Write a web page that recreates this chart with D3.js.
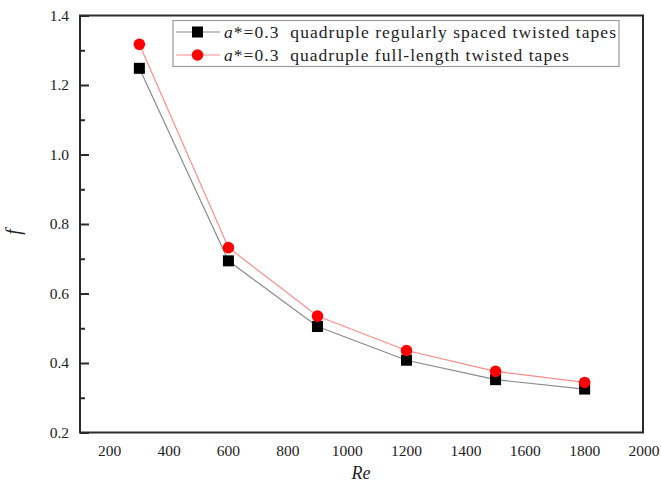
<!DOCTYPE html>
<html>
<head>
<meta charset="utf-8">
<script src="https://cdn.jsdelivr.net/npm/d3@7"></script>
<style>
  html, body { margin: 0; padding: 0; background: #fff; }
  svg { display: block; }
</style>
</head>
<body>
<svg id="chart" width="661" height="490"></svg>
<script>
// Reynolds numbers tested
const reynolds = [300, 600, 900, 1200, 1500, 1800];
// Friction factor, regularly spaced tapes
const fSpaced = [1.248, 0.694, 0.505, 0.408, 0.352, 0.325];
// Friction factor, full-length tapes
const fFull = [1.317, 0.732, 0.535, 0.436, 0.376, 0.344];
// Axis tick values
const xTicks = [200, 400, 600, 800, 1000, 1200, 1400, 1600, 1800, 2000];
const yTicks = [0.2, 0.4, 0.6, 0.8, 1.0, 1.2, 1.4];
const yMinorTicks = [0.3, 0.5, 0.7, 0.9, 1.1, 1.3];

const serif = "'Liberation Serif', 'Times New Roman', Times, 'DejaVu Serif', serif";
const ink = "#222";

const svg = d3.select("#chart");
const plotLeft = 80, plotRight = 644, plotTop = 15.5, plotBottom = 432.5;

const x = d3.scaleLinear().domain([100, 2000]).range([plotLeft, plotRight]);
const y = d3.scaleLinear().domain([0.2, 1.4]).range([plotBottom, plotTop]);

// Frame
svg.append("rect")
  .attr("x", plotLeft).attr("y", plotTop)
  .attr("width", plotRight - plotLeft - 1).attr("height", plotBottom - plotTop)
  .attr("fill", "none").attr("stroke", "#2a2a2a").attr("stroke-width", 2);

// Left axis, ticks pointing inward
const yAxis = d3.axisRight(y).tickValues(yTicks).tickSize(9).tickFormat("");
svg.append("g").attr("transform", `translate(${plotLeft},0)`).call(yAxis)
  .call(g => g.select(".domain").remove())
  .call(g => g.selectAll("line").attr("stroke", "#2a2a2a").attr("stroke-width", 2));
const yMinor = d3.axisRight(y).tickValues(yMinorTicks).tickSize(5).tickFormat("");
svg.append("g").attr("transform", `translate(${plotLeft},0)`).call(yMinor)
  .call(g => g.select(".domain").remove())
  .call(g => g.selectAll("line").attr("stroke", "#2a2a2a").attr("stroke-width", 2));

// Y tick labels
svg.append("g").selectAll("text").data(yTicks).join("text")
  .attr("x", plotLeft - 11).attr("y", d => y(d)).attr("dy", "0.35em")
  .attr("text-anchor", "end").attr("font-size", 15.5)
  .attr("font-family", serif).attr("fill", ink)
  .text(d => d.toFixed(1));

// X tick labels (no tick marks)
svg.append("g").selectAll("text").data(xTicks).join("text")
  .attr("x", d => x(d)).attr("y", plotBottom + 23)
  .attr("text-anchor", "middle").attr("font-size", 15.5)
  .attr("font-family", serif).attr("fill", ink)
  .text(d => d);

// Axis titles
svg.append("text").attr("x", 361).attr("y", 479)
  .attr("text-anchor", "middle").attr("font-size", 18).attr("font-style", "italic")
  .attr("font-family", serif).attr("fill", ink)
  .text("Re");
svg.append("text").attr("transform", "translate(20,232) rotate(-90)")
  .attr("text-anchor", "middle").attr("font-size", 20).attr("font-style", "italic")
  .attr("font-family", serif).attr("fill", ink)
  .text("f");

const line = d3.line().x(d => x(d[0])).y(d => y(d[1]));
const spaced = reynolds.map((r, i) => [r, fSpaced[i]]);
const full = reynolds.map((r, i) => [r, fFull[i]]);

// Series lines
svg.append("path").datum(spaced).attr("d", line)
  .attr("fill", "none").attr("stroke", "#8a8a8a").attr("stroke-width", 1.2);
svg.append("path").datum(full).attr("d", line)
  .attr("fill", "none").attr("stroke", "#ff8a8a").attr("stroke-width", 1.2);

// Markers
svg.append("g").selectAll("rect").data(spaced).join("rect")
  .attr("x", d => x(d[0]) - 5.5).attr("y", d => y(d[1]) - 5.5)
  .attr("width", 11).attr("height", 11).attr("fill", "#000");
svg.append("g").selectAll("circle").data(full).join("circle")
  .attr("cx", d => x(d[0])).attr("cy", d => y(d[1])).attr("r", 5.8)
  .attr("fill", "#ff0000");

// Legend
const lg = svg.append("g");
lg.append("rect").attr("x", 173).attr("y", 20.5).attr("width", 446).attr("height", 46)
  .attr("fill", "#fff").attr("stroke", "#9a9a9a").attr("stroke-width", 1.2);
const legendItems = [
  { label: "quadruple regularly spaced twisted tapes", color: "#8a8a8a", shape: "square", cy: 32 },
  { label: "quadruple full-length twisted tapes", color: "#ff8a8a", shape: "circle", cy: 55 }
];
const legendTexts = [];
legendItems.forEach(it => {
  lg.append("line").attr("x1", 176).attr("x2", 220).attr("y1", it.cy).attr("y2", it.cy)
    .attr("stroke", it.color).attr("stroke-width", 1.2);
  if (it.shape === "square") {
    lg.append("rect").attr("x", 197.5 - 5.5).attr("y", it.cy - 5.5)
      .attr("width", 11).attr("height", 11).attr("fill", "#000");
  } else {
    lg.append("circle").attr("cx", 197.5).attr("cy", it.cy).attr("r", 5.8).attr("fill", "#ff0000");
  }
  const t = lg.append("text").attr("x", 224).attr("y", it.cy).attr("dy", "0.35em")
    .attr("font-size", 17.5).attr("font-family", serif).attr("fill", ink);
  t.append("tspan").attr("font-style", "italic").text("a");
  t.append("tspan").text("*=0.3\u00a0\u00a0" + it.label);
  legendTexts.push(t);
});
// Spread the legend text so the first row fills the box
const natural = legendTexts[0].node().getComputedTextLength();
const stretch = 392 / natural;
legendTexts.forEach(t => {
  const w = t.node().getComputedTextLength();
  t.attr("textLength", w * stretch).attr("lengthAdjust", "spacing");
});
</script>
</body>
</html>
